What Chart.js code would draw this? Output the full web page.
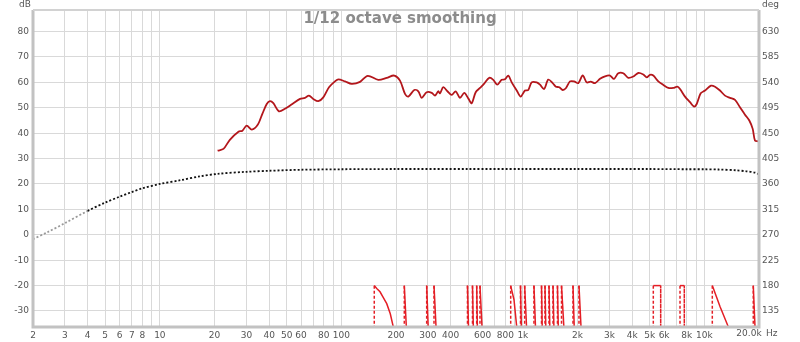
<!DOCTYPE html>
<html>
<head>
<meta charset="utf-8">
<script src="https://cdn.jsdelivr.net/npm/chart.js@4.4.1/dist/chart.umd.min.js"></script>
<style>
  html, body { margin: 0; padding: 0; background: #fff; }
  canvas { display: block; }
</style>
</head>
<body>
<canvas id="respChart" width="800" height="342"></canvas>
<script>
// SPL, 1/12 octave smoothed (Hz / dB)
var splFreq = [20.8, 22.4, 24.3, 27.1, 28.5, 30.1, 32.1, 34.6, 36.7, 38.8, 40.4, 42.2, 45.3, 48.9, 53.7,
    59.2, 63, 66.3, 70, 74.6, 79.5, 85.5, 92.2, 96.2, 104.7, 114, 126.7, 139.7, 159.8, 177.8, 195.7,
    210.4, 224.2, 233.8, 252.2, 265.4, 277.1, 295.2, 314.5, 328, 342, 349.4, 364.4, 385.3, 405.4, 426.5,
    450.4, 475.6, 500.3, 522.4, 549.6, 580.4, 610.6, 653, 687, 723, 764, 797, 831, 868, 925, 973,
    1027, 1071, 1118, 1192, 1243, 1308, 1381, 1460, 1522, 1588, 1658, 1729, 1818, 1913, 2020, 2137,
    2247, 2364, 2497, 2661, 2835, 3021, 3178, 3356, 3575, 3810, 4059, 4325, 4609, 4813, 5018, 5232,
    5575, 5939, 6328, 6743, 7096, 7342, 7823, 8335, 8770, 9075, 9546, 10080, 10877, 11445, 12194,
    12995, 13846, 14752, 15717, 16747, 17686, 18466, 19010, 19826];
var splDb = [33.1, 33.8, 37.4, 40.6, 41.0, 43.0, 41.4, 43.3, 47.6, 51.5, 52.6, 51.8, 48.6, 49.6, 51.5,
    53.5, 53.9, 54.8, 53.5, 52.6, 54.1, 58.1, 60.4, 61.2, 60.4, 59.4, 60.2, 62.6, 61.0, 61.8, 62.7,
    60.7, 55.5, 54.4, 57.0, 56.5, 53.9, 56.1, 55.9, 54.8, 56.5, 55.7, 58.1, 56.4, 55.1, 56.5,
    53.9, 55.9, 53.7, 51.8, 56.1, 57.8, 59.4, 61.8, 61.0, 59.1, 61.0, 61.2, 62.7, 60.0, 56.8, 54.4,
    56.8, 57.0, 60.0, 60.0, 59.1, 57.4, 61.1, 59.7, 58.3, 58.1, 57.0, 57.8, 60.4, 60.4, 59.7, 62.8,
    60.0, 60.3, 59.7, 61.4, 62.4, 62.7, 61.4, 63.6, 63.6, 61.8, 62.3, 63.7, 63.1, 62.0, 63.0, 62.7,
    60.4, 59.0, 57.8, 57.8, 58.3, 57.4, 54.4, 52.2, 50.5, 51.5, 55.7, 56.8, 58.7, 58.3, 56.8,
    54.8, 53.9, 53.1, 50.2, 47.3, 45.0, 41.7, 37.1, 36.8];

// dotted trace (Hz / dB)
var dotFreq = [2, 2.4, 3, 4, 5, 6, 7, 8, 10, 13, 16.6, 20.8, 30, 40, 60, 100, 200, 500, 1000, 2000,
    5000, 8000, 10000, 12000, 15000, 17000, 19000, 20000];
var dotDb = [-1.7, 1.0, 4.6, 9.4, 12.7, 15.0, 16.8, 18.3, 20.0, 21.5, 23.0, 24.0, 24.8, 25.2, 25.6,
    25.8, 25.9, 25.9, 25.9, 25.9, 25.9, 25.8, 25.8, 25.7, 25.4, 25.0, 24.5, 23.8];

// wrapped phase (Hz / deg, right axis) - only the 107..180 band is on screen
var phaseFreq = [151.8, 151.8, 156.6, 163.3, 170, 177.8, 186, 193.2, 205,
    222.2, 222.2, 252.2,
    295.2, 295.2,
    323.9, 323.9, 367.6,
    495.3, 495.3,
    527.8, 527.8,
    556.7, 556.7,
    580.4, 580.4, 658.6,
    857, 857, 868, 893.6, 925, 960,
    970.5, 970.5,
    1023, 1023,
    1151, 1151,
    1267, 1267,
    1324, 1324,
    1393, 1393,
    1466, 1466,
    1551, 1551,
    1633, 1633,
    1889, 1889,
    2038, 2038, 2314,
    5232, 5232, 5746, 5746,
    7342, 7342, 7753, 7753,
    11060, 11060, 11600, 12194, 13550, 15000,
    18600, 18600, 20700];
var phaseDeg = [-180, 180, 175, 169, 159, 148, 130, 107, -180,
    -180, 180, -180,
    -180, 180,
    -180, 180, -180,
    -180, 180,
    -180, 180,
    -180, 180,
    -180, 180, -180,
    -180, 180, 172, 155, 107, -180,
    -180, 180,
    -180, 180,
    -180, 180,
    -180, 180,
    -180, 180,
    -180, 180,
    -180, 180,
    -180, 180,
    -180, 180,
    -180, 180,
    -180, 180, -180,
    -180, 180, 180, -180,
    -180, 180, 180, -180,
    -180, 180, 162, 143, 107, -180,
    -180, 180, -180];

var xLabelValues = [2, 3, 4, 5, 6, 7, 8, 10, 20, 30, 40, 50, 60, 80, 100, 200, 300, 400, 600, 800,
    1000, 2000, 3000, 4000, 5000, 6000, 8000, 10000];
var xLabelText = ['2', '3', '4', '5', '6', '7', '8', '10', '20', '30', '40', '50', '60', '80', '100',
    '200', '300', '400', '600', '800', '1k', '2k', '3k', '4k', '5k', '6k', '8k', '10k'];

function toPoints(xs, ys) {
    return xs.map(function(x, i) { return { x: x, y: ys[i] }; });
}

// grid line at every 1..9 multiple from 2 Hz to 20 kHz
var gridFreqs = [];
[1, 10, 100, 1000, 10000].forEach(function(dec) {
    for (var m = 1; m <= 9; m++) {
        var f = m * dec;
        if (f >= 2 && f <= 20000) gridFreqs.push(f);
    }
});

var tickFont = { family: 'DejaVu Sans', size: 9 };
var tickColor = '#555';

var frameAndText = {
    id: 'frameAndText',
    afterDatasetsDraw: function(chart) {
        var ctx = chart.ctx, a = chart.chartArea;
        ctx.save();
        ctx.strokeStyle = '#c2c2c2';
        ctx.lineWidth = 3;
        ctx.beginPath();
        ctx.moveTo(a.left, a.top);
        ctx.lineTo(a.left, a.bottom);
        ctx.lineTo(a.right, a.bottom);
        ctx.lineTo(a.right, a.top);
        ctx.stroke();
        ctx.lineWidth = 2;
        ctx.strokeStyle = '#d2d2d2';
        ctx.beginPath();
        ctx.moveTo(a.left, a.top);
        ctx.lineTo(a.right, a.top);
        ctx.stroke();

        ctx.fillStyle = '#8c8c8c';
        ctx.font = 'bold 15px "DejaVu Sans"';
        ctx.textAlign = 'center';
        ctx.textBaseline = 'middle';
        ctx.fillText('1/12 octave smoothing', 400, 19);

        ctx.font = '9px "DejaVu Sans"';
        ctx.fillStyle = tickColor;
        ctx.textAlign = 'right';
        ctx.fillText('dB', 31, 5);
        ctx.textAlign = 'left';
        ctx.fillText('deg', 762, 5);
        ctx.textAlign = 'center';
        ctx.fillText('20.0k', 749, 334);
        ctx.textAlign = 'left';
        ctx.fillText('Hz', 766, 334);
        ctx.restore();
    }
};

var ctx = document.getElementById('respChart').getContext('2d');
var respChart = new Chart(ctx, {
    type: 'line',
    data: {
        datasets: [{
            label: 'SPL',
            data: toPoints(splFreq, splDb),
            yAxisID: 'y',
            borderColor: '#b3161b',
            borderWidth: 1.8,
            pointRadius: 0,
            tension: 0.3,
            fill: false
        }, {
            label: 'dotted',
            data: toPoints(dotFreq, dotDb),
            yAxisID: 'y',
            borderColor: '#111',
            borderWidth: 1.8,
            borderDash: [2, 2],
            pointRadius: 0,
            tension: 0.3,
            fill: false,
            segment: {
                borderColor: function(c) { return c.p0.parsed.x < 3.5 ? '#9a9a9a' : undefined; }
            }
        }, {
            label: 'Phase',
            data: toPoints(phaseFreq, phaseDeg),
            yAxisID: 'y2',
            borderColor: '#e41e25',
            borderWidth: 1.5,
            pointRadius: 0,
            tension: 0,
            fill: false,
            clip: 0,
            segment: {
                borderDash: function(c) { return c.p0.parsed.x === c.p1.parsed.x ? [3, 2] : undefined; }
            }
        }]
    },
    options: {
        responsive: false,
        animation: false,
        devicePixelRatio: 1,
        layout: { padding: { top: 10, left: 0, right: 0, bottom: 0 } },
        plugins: {
            legend: { display: false },
            tooltip: { enabled: false },
            title: { display: false }
        },
        scales: {
            x: {
                type: 'logarithmic',
                min: 2,
                max: 20000,
                afterBuildTicks: function(s) {
                    s.ticks = gridFreqs.map(function(v) { return { value: v }; });
                },
                afterFit: function(s) { s.height = 15; },
                grid: { color: '#d9d9d9', lineWidth: 1, drawTicks: false },
                border: { display: false },
                ticks: {
                    autoSkip: false,
                    maxRotation: 0,
                    padding: 3,
                    color: tickColor,
                    font: tickFont,
                    callback: function(v) {
                        var i = xLabelValues.indexOf(v);
                        return i < 0 ? '' : xLabelText[i];
                    }
                }
            },
            y: {
                type: 'linear',
                position: 'left',
                min: -36.3,
                max: 88.5,
                afterFit: function(s) { s.width = 33; },
                grid: { color: '#d9d9d9', lineWidth: 1, drawTicks: false },
                border: { display: false },
                ticks: { stepSize: 10, includeBounds: false, padding: 4, color: tickColor, font: tickFont }
            },
            y2: {
                type: 'linear',
                position: 'right',
                min: 106.65,
                max: 668.25,
                afterFit: function(s) { s.width = 41; },
                grid: { display: false, drawTicks: false },
                border: { display: false },
                ticks: { stepSize: 45, includeBounds: false, padding: 3, color: tickColor, font: tickFont }
            }
        }
    },
    plugins: [frameAndText]
});
</script>
</body>
</html>
